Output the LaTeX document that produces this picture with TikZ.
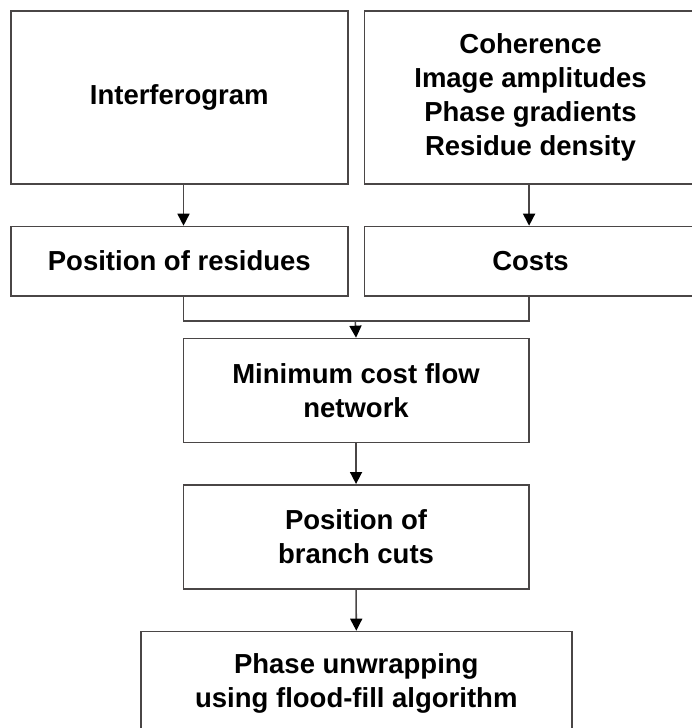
\documentclass[tikz,border=0pt]{standalone}
\usepackage{fontspec}
\setmainfont{Liberation Sans}
\usetikzlibrary{arrows.meta}
\definecolor{linegray}{HTML}{4A4646}
\begin{document}
\begin{tikzpicture}[x=1pt,y=-1pt,
  box/.style={draw=linegray, line width=1.6pt, rectangle, anchor=north west, inner sep=0pt, align=center,
    font=\fontsize{27.5}{34}\selectfont\bfseries},
  ln/.style={draw=linegray, line width=1.6pt},
  arr/.style={ln, -{Triangle[length=12pt,width=12pt,fill=black,color=black]}}]
\useasboundingbox (0,0) rectangle (692,728);
\node[box, minimum width=337pt, minimum height=173pt] (interf) at (10,10) {Interferogram};
\node[box, minimum width=332pt, minimum height=173pt] (coh) at (363.7,10) {Coherence\\Image amplitudes\\Phase gradients\\Residue density};
\node[box, minimum width=337pt, minimum height=69.3pt] (resid) at (10,225.7) {Position of residues};
\node[box, minimum width=332pt, minimum height=69.3pt] (costs) at (363.7,225.7) {Costs};
\node[box, minimum width=345.5pt, minimum height=104pt] (mcf) at (182.5,337.7) {Minimum cost flow\\network};
\node[box, minimum width=345.5pt, minimum height=104pt] (cuts) at (182.5,484) {Position of\\branch cuts};
\node[box, minimum width=431pt, minimum height=103pt] (unwrap) at (140,630.7) {Phase unwrapping\\using flood-fill algorithm};
\coordinate (merge) at (355.25,320.7);
\draw[arr] ([xshift=4.2pt]interf.south) -- ([xshift=4.2pt]resid.north);
\draw[arr] ([xshift=-1.4pt]coh.south) -- ([xshift=-1.4pt]costs.north);
\draw[ln] ([xshift=4.2pt]resid.south) |- (merge) -| ([xshift=-1.4pt]costs.south);
\draw[arr] (merge) -- (mcf.north);
\draw[arr] (mcf.south) -- (cuts.north);
\draw[arr] (cuts.south) -- (unwrap.north);
\end{tikzpicture}
\end{document}
